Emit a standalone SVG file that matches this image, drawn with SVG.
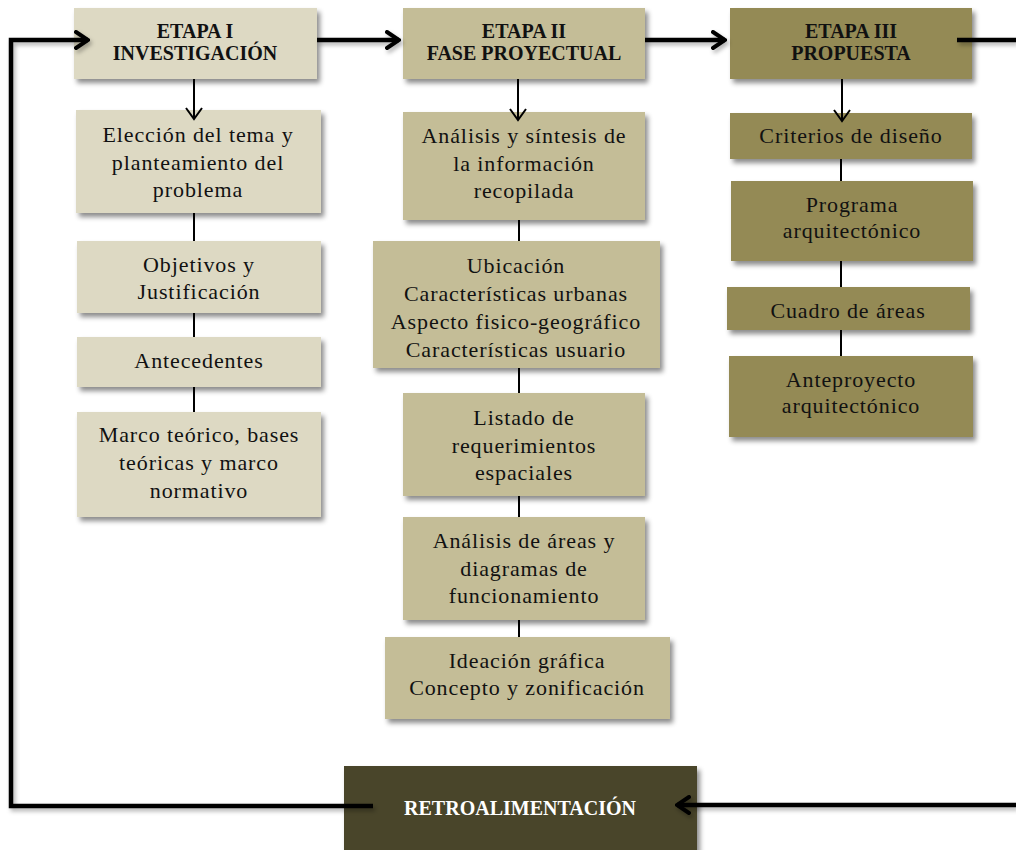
<svg xmlns="http://www.w3.org/2000/svg" width="1016" height="850" viewBox="0 0 1016 850">
<defs>
<filter id="sh" x="-10%" y="-10%" width="130%" height="140%">
<feDropShadow dx="3" dy="4" stdDeviation="2.5" flood-color="#000" flood-opacity="0.45"/>
</filter>
<filter id="lsh" x="-5%" y="-5%" width="110%" height="110%">
<feDropShadow dx="2" dy="3" stdDeviation="2" flood-color="#000" flood-opacity="0.3"/>
</filter>
<marker id="ah" viewBox="0 0 16 20" refX="14" refY="10" markerWidth="16" markerHeight="20" orient="auto" markerUnits="userSpaceOnUse">
<path d="M2,2 L14,10 L2,18" fill="none" stroke="#000" stroke-width="4" stroke-linecap="round" stroke-linejoin="miter"/>
</marker>
<marker id="as" viewBox="0 0 14 18" refX="12" refY="9" markerWidth="14" markerHeight="18" orient="auto" markerUnits="userSpaceOnUse">
<path d="M1,1 L12,9 L1,17" fill="none" stroke="#000" stroke-width="2" stroke-linejoin="miter"/>
</marker>
</defs>
<style>
.c1{fill:#DDD9C3}
.c2{fill:#C4BD97}
.c3{fill:#948A54}
.c4{fill:#4A452A}
.b{filter:url(#sh)}
.h{font-family:"Liberation Serif","Times New Roman",serif;font-weight:bold;font-size:20px;fill:#111;text-anchor:middle}
.t{font-family:"Liberation Serif","Times New Roman",serif;font-size:22px;letter-spacing:0.9px;fill:#111;text-anchor:middle}
.w{fill:#fff}
.thick{fill:none;stroke:#000;stroke-width:4.5}
.thin{fill:none;stroke:#000;stroke-width:2}
</style>
<rect width="1016" height="850" fill="#fff"/>

<g id="etapa1">
<rect class="c1 b" x="74" y="8" width="243" height="71"/>
<text class="h" x="195" y="38">ETAPA I</text>
<text class="h" x="195" y="60">INVESTIGACIÓN</text>
</g>
<g id="etapa2">
<rect class="c2 b" x="403" y="8" width="242" height="71"/>
<text class="h" x="524" y="38">ETAPA II</text>
<text class="h" x="524" y="60">FASE PROYECTUAL</text>
</g>
<g id="etapa3">
<rect class="c3 b" x="730" y="8" width="242" height="71"/>
<text class="h" x="851" y="38">ETAPA III</text>
<text class="h" x="851" y="60">PROPUESTA</text>
</g>

<g id="eleccion">
<rect class="c1 b" x="76" y="110" width="245" height="103"/>
<text class="t" x="198" y="142">Elección del tema y</text>
<text class="t" x="198" y="170">planteamiento del</text>
<text class="t" x="198" y="197">problema</text>
</g>
<g id="objetivos">
<rect class="c1 b" x="77" y="241" width="244" height="72"/>
<text class="t" x="199" y="272">Objetivos y</text>
<text class="t" x="199" y="299">Justificación</text>
</g>
<g id="antecedentes">
<rect class="c1 b" x="77" y="337" width="244" height="50"/>
<text class="t" x="199" y="368">Antecedentes</text>
</g>
<g id="marco">
<rect class="c1 b" x="77" y="412" width="244" height="105"/>
<text class="t" x="199" y="442">Marco teórico, bases</text>
<text class="t" x="199" y="470">teóricas y marco</text>
<text class="t" x="199" y="498">normativo</text>
</g>

<g id="analisis">
<rect class="c2 b" x="403" y="112" width="242" height="108"/>
<text class="t" x="524" y="143">Análisis y síntesis de</text>
<text class="t" x="524" y="171">la información</text>
<text class="t" x="524" y="198">recopilada</text>
</g>
<g id="ubicacion">
<rect class="c2 b" x="373" y="241" width="287" height="127"/>
<text class="t" x="516" y="273">Ubicación</text>
<text class="t" x="516" y="301">Características urbanas</text>
<text class="t" x="516" y="329">Aspecto fisico-geográfico</text>
<text class="t" x="516" y="357">Características usuario</text>
</g>
<g id="listado">
<rect class="c2 b" x="403" y="393" width="242" height="103"/>
<text class="t" x="524" y="425">Listado de</text>
<text class="t" x="524" y="453">requerimientos</text>
<text class="t" x="524" y="480">espaciales</text>
</g>
<g id="areas">
<rect class="c2 b" x="403" y="517" width="242" height="103"/>
<text class="t" x="524" y="548">Análisis de áreas y</text>
<text class="t" x="524" y="576">diagramas de</text>
<text class="t" x="524" y="603">funcionamiento</text>
</g>
<g id="ideacion">
<rect class="c2 b" x="385" y="637" width="285" height="82"/>
<text class="t" x="527" y="668">Ideación gráfica</text>
<text class="t" x="527" y="695">Concepto y zonificación</text>
</g>

<g id="criterios">
<rect class="c3 b" x="730" y="113" width="242" height="46"/>
<text class="t" x="851" y="143">Criterios de diseño</text>
</g>
<g id="programa">
<rect class="c3 b" x="731" y="181" width="242" height="80"/>
<text class="t" x="852" y="212">Programa</text>
<text class="t" x="852" y="238">arquitectónico</text>
</g>
<g id="cuadro">
<rect class="c3 b" x="727" y="287" width="243" height="43"/>
<text class="t" x="848" y="318">Cuadro de áreas</text>
</g>
<g id="anteproyecto">
<rect class="c3 b" x="729" y="356" width="244" height="81"/>
<text class="t" x="851" y="387">Anteproyecto</text>
<text class="t" x="851" y="413">arquitectónico</text>
</g>

<g id="retro">
<rect class="c4 b" x="344" y="766" width="353" height="90"/>
<text class="h w" x="520" y="815">RETROALIMENTACIÓN</text>
</g>

<g id="connectors">
<g filter="url(#lsh)">
<path class="thick" d="M373,806 L11,806 L11,40 L88,40" marker-end="url(#ah)"/>
<path class="thick" d="M317,40 L399,40" marker-end="url(#ah)"/>
<path class="thick" d="M645,40 L725,40" marker-end="url(#ah)"/>
<path class="thick" d="M957,40 L1016,40"/>
<path class="thick" d="M1016,805 L677,805" marker-end="url(#ah)"/>
</g>
<path class="thin" d="M194,79 L194,119" marker-end="url(#as)"/>
<path class="thin" d="M518,79 L518,120" marker-end="url(#as)"/>
<path class="thin" d="M842,79 L842,121" marker-end="url(#as)"/>
<path class="thin" d="M194,213 V241 M194,313 V337 M194,387 V412"/>
<path class="thin" d="M519,220 V241 M519,368 V393 M519,496 V517 M519,620 V637"/>
<path class="thin" d="M841,159 V181 M841,261 V287 M841,330 V356"/>
</g>
</svg>
